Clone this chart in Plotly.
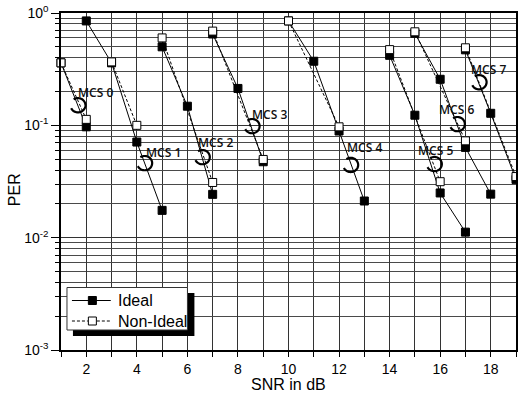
import numpy as np
import plotly.graph_objects as go

# ---------------- data ----------------
mcs_labels = ["MCS 0", "MCS 1", "MCS 2", "MCS 3", "MCS 4", "MCS 5", "MCS 6", "MCS 7"]

ideal_snr = [
    [1, 2],
    [2, 3, 4, 5],
    [5, 6, 7],
    [7, 8, 9],
    [10, 11, 12, 13],
    [14, 15, 16, 17],
    [15, 16, 17, 18],
    [17, 18, 19],
]
ideal_per = [
    [0.36, 0.097],
    [0.85, 0.36, 0.071, 0.0175],
    [0.50, 0.148, 0.0243],
    [0.65, 0.213, 0.0474],
    [0.85, 0.372, 0.089, 0.0212],
    [0.42, 0.123, 0.025, 0.0112],
    [0.66, 0.257, 0.0636, 0.0244],
    [0.47, 0.128, 0.033],
]

nonideal_snr = [
    [1, 2],
    [3, 4],
    [5, 7],
    [7, 9],
    [10, 12],
    [14, 16],
    [15, 17],
    [17, 19],
]
nonideal_per = [
    [0.36, 0.113],
    [0.367, 0.10],
    [0.60, 0.031],
    [0.69, 0.0497],
    [0.85, 0.097],
    [0.472, 0.0315],
    [0.68, 0.0728],
    [0.49, 0.035],
]

# label positions (text centre) and curl centres, in data units
label_snr = [2.38, 5.06, 7.10, 9.23, 13.01, 15.81, 16.64, 17.90]
label_per = [0.197, 0.0577, 0.0708, 0.1255, 0.064, 0.0603, 0.139, 0.316]
curl_snr = [1.67, 4.31, 6.59, 8.56, 12.46, 15.77, 16.68, 17.54]
curl_per = [0.151, 0.0461, 0.0521, 0.0984, 0.0444, 0.0452, 0.1025, 0.242]

legend_names = ["Ideal", "Non-Ideal"]

y_tickvals = [1e-3, 1e-2, 1e-1, 1]
y_ticktext = ["10<sup>-3</sup>", "10<sup>-2</sup>", "10<sup>-1</sup>", "10<sup>0</sup>"]
y_minor = [m * 10.0 ** e for e in (-3, -2, -1) for m in range(2, 10)]

X_RANGE = [1, 19]
Y_RANGE = [-3, 0]

# ---------------- layout geometry ----------------
ML, MR, MT, MB = 61, 0, 13, 45
FW, FH = 518, 395
W, H = FW - ML - MR, FH - MT - MB


def px2paper_x(p):
    return (p - ML) / W


def px2paper_y(p):
    return (FH - MB - p) / H


def data2paper_x(v):
    return (v - X_RANGE[0]) / (X_RANGE[1] - X_RANGE[0])


def data2paper_y(v):
    return (np.log10(v) - Y_RANGE[0]) / (Y_RANGE[1] - Y_RANGE[0])


def join_groups(xs, ys):
    X, Y = [], []
    for gx, gy in zip(xs, ys):
        X += list(gx) + [None]
        Y += list(gy) + [None]
    return X, Y


fig = go.Figure()

xi, yi = join_groups(ideal_snr, ideal_per)
fig.add_trace(go.Scatter(
    x=xi, y=yi, mode="lines+markers", name=legend_names[0], showlegend=False,
    line=dict(color="black", width=1),
    marker=dict(symbol="square", size=8, color="black", line=dict(color="black", width=1)),
    cliponaxis=False, connectgaps=False,
))
xn, yn = join_groups(nonideal_snr, nonideal_per)
fig.add_trace(go.Scatter(
    x=xn, y=yn, mode="lines+markers", name=legend_names[1], showlegend=False,
    line=dict(color="black", width=1, dash="3px,2px"),
    marker=dict(symbol="square", size=8, color="white", line=dict(color="black", width=1)),
    cliponaxis=False, connectgaps=False,
))

# curl glyph path (pixel offsets, y up): an open hook, like a reversed "C"
r = 7.5
th = np.linspace(np.deg2rad(125), np.deg2rad(-155), 44)
curl_path = "M " + " L ".join(f"{r * np.cos(t):.2f},{r * 0.95 * np.sin(t):.2f}" for t in th)

shapes = []
for cx, cy in zip(curl_snr, curl_per):
    shapes.append(dict(
        type="path", xref="paper", yref="paper", xsizemode="pixel", ysizemode="pixel",
        xanchor=data2paper_x(cx), yanchor=data2paper_y(cy), path=curl_path,
        line=dict(color="black", width=2.2),
    ))

# ---- hand-built legend (box with drop shadow) ----
shapes.append(dict(type="rect", xref="paper", yref="paper",
                   x0=px2paper_x(73), x1=px2paper_x(195),
                   y0=px2paper_y(336), y1=px2paper_y(293),
                   fillcolor="black", line=dict(width=0), layer="above"))
shapes.append(dict(type="rect", xref="paper", yref="paper",
                   x0=px2paper_x(67), x1=px2paper_x(188),
                   y0=px2paper_y(330), y1=px2paper_y(287.5),
                   fillcolor="white", line=dict(color="#333", width=1), layer="above"))
row_y = [300.5, 321.0]
shapes.append(dict(type="line", xref="paper", yref="paper",
                   x0=px2paper_x(72), x1=px2paper_x(111),
                   y0=px2paper_y(row_y[0]), y1=px2paper_y(row_y[0]),
                   line=dict(color="black", width=1), layer="above"))
for a, b in ((72, 88), (97, 112)):
    shapes.append(dict(type="line", xref="paper", yref="paper",
                       x0=px2paper_x(a), x1=px2paper_x(b),
                       y0=px2paper_y(row_y[1]), y1=px2paper_y(row_y[1]),
                       line=dict(color="black", width=1, dash="3px,2px"), layer="above"))
for ry, fc in zip(row_y, ("black", "white")):
    shapes.append(dict(type="rect", xref="paper", yref="paper",
                       xsizemode="pixel", ysizemode="pixel",
                       xanchor=px2paper_x(92.5), yanchor=px2paper_y(ry),
                       x0=-4, x1=4, y0=-4, y1=4,
                       fillcolor=fc, line=dict(color="black", width=1), layer="above"))

annotations = []
for name, ry in zip(legend_names, row_y):
    annotations.append(dict(
        x=px2paper_x(116), y=px2paper_y(ry), xref="paper", yref="paper",
        xanchor="left", yanchor="middle", text=name, showarrow=False,
        font=dict(family="Liberation Sans", size=16, color="black"),
    ))

for lab, lx, ly in zip(mcs_labels, label_snr, label_per):
    annotations.append(dict(
        x=lx, y=np.log10(ly), xref="x", yref="y", text=lab, showarrow=False,
        xanchor="center", yanchor="middle",
        font=dict(family="Open Sans", size=12, color="#111", weight=600),
    ))
annotations.append(dict(
    x=px2paper_x(14), y=px2paper_y(190), xref="paper", yref="paper",
    xanchor="center", yanchor="middle",
    text="PER", textangle=-90, showarrow=False,
    font=dict(family="Liberation Sans", size=16, color="black"),
))
annotations.append(dict(
    x=0.5, y=px2paper_y(384.5), xref="paper", yref="paper",
    xanchor="center", yanchor="middle",
    text="SNR in dB", showarrow=False,
    font=dict(family="Liberation Sans", size=16, color="black"),
))

grid_c = "#333333"
fig.update_layout(
    width=FW, height=FH,
    margin=dict(l=ML, r=MR, t=MT, b=MB),
    paper_bgcolor="white", plot_bgcolor="white",
    showlegend=False,
    shapes=shapes, annotations=annotations,
    font=dict(family="Liberation Sans", color="black"),
)
fig.update_xaxes(
    range=X_RANGE, dtick=2, tick0=0, showgrid=True, gridcolor=grid_c, gridwidth=1,
    ticks="outside", ticklen=5, tickcolor="black",
    showline=True, linecolor="black", linewidth=1.5, mirror=True, zeroline=False,
    tickfont=dict(family="Liberation Sans", size=14, color="black"),
    minor=dict(dtick=1, tick0=1, ticks="outside", ticklen=5, tickcolor="black",
               showgrid=True, gridcolor=grid_c, gridwidth=1),
)
fig.update_yaxes(
    type="log", range=Y_RANGE, tickvals=y_tickvals, ticktext=y_ticktext,
    showgrid=True, gridcolor=grid_c, gridwidth=1,
    ticks="outside", ticklen=8, tickcolor="black",
    showline=True, linecolor="black", linewidth=1.5, mirror=True, zeroline=False,
    tickfont=dict(family="Liberation Sans", size=14, color="black"),
    minor=dict(tickvals=y_minor, ticks="outside", ticklen=4, tickcolor="black",
               showgrid=True, gridcolor="#4a4a4a", gridwidth=1),
)

fig.write_html("out.html")
